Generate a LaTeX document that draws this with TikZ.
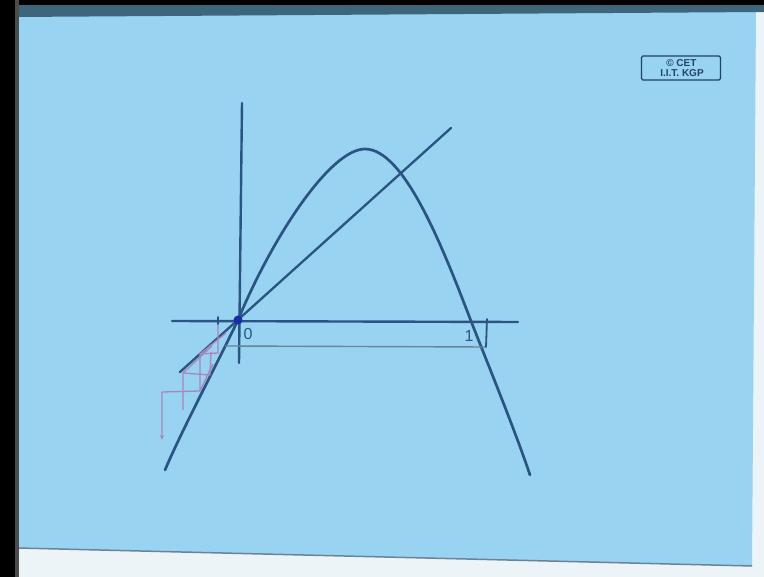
\documentclass[tikz,border=0pt]{standalone}
\usepackage{fontspec}
\setmainfont{Liberation Sans}
\usetikzlibrary{arrows.meta}
\definecolor{board}{RGB}{152,211,241}
\definecolor{ink}{RGB}{42,84,130}
\definecolor{dotblue}{RGB}{25,45,170}
\definecolor{cob}{RGB}{170,135,185}
\definecolor{thinline}{RGB}{105,132,152}
\definecolor{topband}{RGB}{62,102,122}
\definecolor{paper}{RGB}{236,244,248}
\tikzset{
  axisline/.style={draw=ink, line width=2.4pt, line cap=round},
  curveline/.style={draw=ink, line width=2.7pt, line cap=round, line join=round},
  cobline/.style={draw=cob, line width=1.3pt, line join=round},
  greyline/.style={draw=thinline, line width=1.4pt},
  digit/.style={text=ink, font=\fontsize{16}{16}\selectfont, inner sep=0pt},
  stamp/.style={draw=ink!80!black, line width=1.1pt, rounded corners=1.5pt, text=ink!80!black,
    font=\fontsize{10}{9.5}\bfseries\selectfont, align=left, minimum width=79pt, minimum height=24pt, inner sep=1pt}
}
\begin{document}
\begin{tikzpicture}[x=1pt,y=-1pt]
\useasboundingbox (0,0) rectangle (764,577);
% background
\fill[paper] (0,0) rectangle (764,577);
\fill[board] (16,14) -- (756,12) -- (752,566) -- (18,548) -- cycle;
\draw[thinline, line width=1.5pt] (18,548) -- (752,566);
\fill[topband] (15,5) -- (764,4) -- (764,12) -- (15,17) -- cycle;
\fill[black] (0,0) rectangle (764,5);
\fill[black] (0,0) rectangle (15,577);
\fill[black!70] (15,0) rectangle (19,577);
% axes
\coordinate (xl) at (172,321);
\coordinate (xr) at (518,322);
\coordinate (yt) at (242,103);
\coordinate (yb) at (239,363);
\coordinate (O) at (238,320);
\draw[axisline] (xl) -- (xr);
\draw[axisline] (yt) -- (yb);
% diagonal y = x
\coordinate (dl) at (180,372);
\coordinate (dr) at (451,128);
\draw[curveline, line width=2.3pt] (dl) -- (dr);
% map curve
\coordinate (cL) at (165,470);
\coordinate (top) at (365,149);
\coordinate (cX) at (471,321);
\coordinate (cR) at (530,475);
\draw[curveline] (cL) .. controls (182,430) and (215,368) .. (O)
  .. controls (272,238) and (330,149) .. (top)
  .. controls (405,149) and (444,251) .. (cX)
  .. controls (483,352) and (515,430) .. (cR);
% right cobweb (x > 1)
\coordinate (r0) at (487,319);
\coordinate (r1) at (486,347);
\coordinate (r2) at (225,346);
\draw[greyline] (r1) -- (r2);
\draw[axisline, line width=1.8pt] (r0) -- (r1);
% left cobweb (x < 0)
\coordinate (a0) at (218,317);
\coordinate (a1) at (218,353);
\coordinate (a2) at (200,354);
\coordinate (a3) at (200,391);
\coordinate (a4) at (162,392);
\coordinate (a5) at (162,440);
\draw[cobline, -{Stealth[length=5pt,width=4pt]}] (a0) -- (a1) -- (a2) -- (a3) -- (a4) -- (a5);
\coordinate (b0) at (211,352);
\coordinate (b1) at (210,375);
\coordinate (b2) at (183,373);
\coordinate (b3) at (183,410);
\draw[cobline] (b0) -- (b1) -- (b2) -- (b3);
\draw[cobline] (a2) -- (226,333);
\draw[cobline] (b2) -- (212,346);
\draw[cobline] (a3) -- (213,364);
\draw[axisline, line width=1.8pt] (218,317) -- (218,324);
% origin dot
\fill[dotblue] (O) circle (4.5pt);
% labels
\node[digit] (zero) at (248,334) {0};
\node[digit] (one) at (469,336) {1};
% stamp
\node[stamp] (cet) at (681,68) {\hspace*{8pt}© CET\\\hspace*{2pt}I.I.T. KGP};
\end{tikzpicture}
\end{document}
